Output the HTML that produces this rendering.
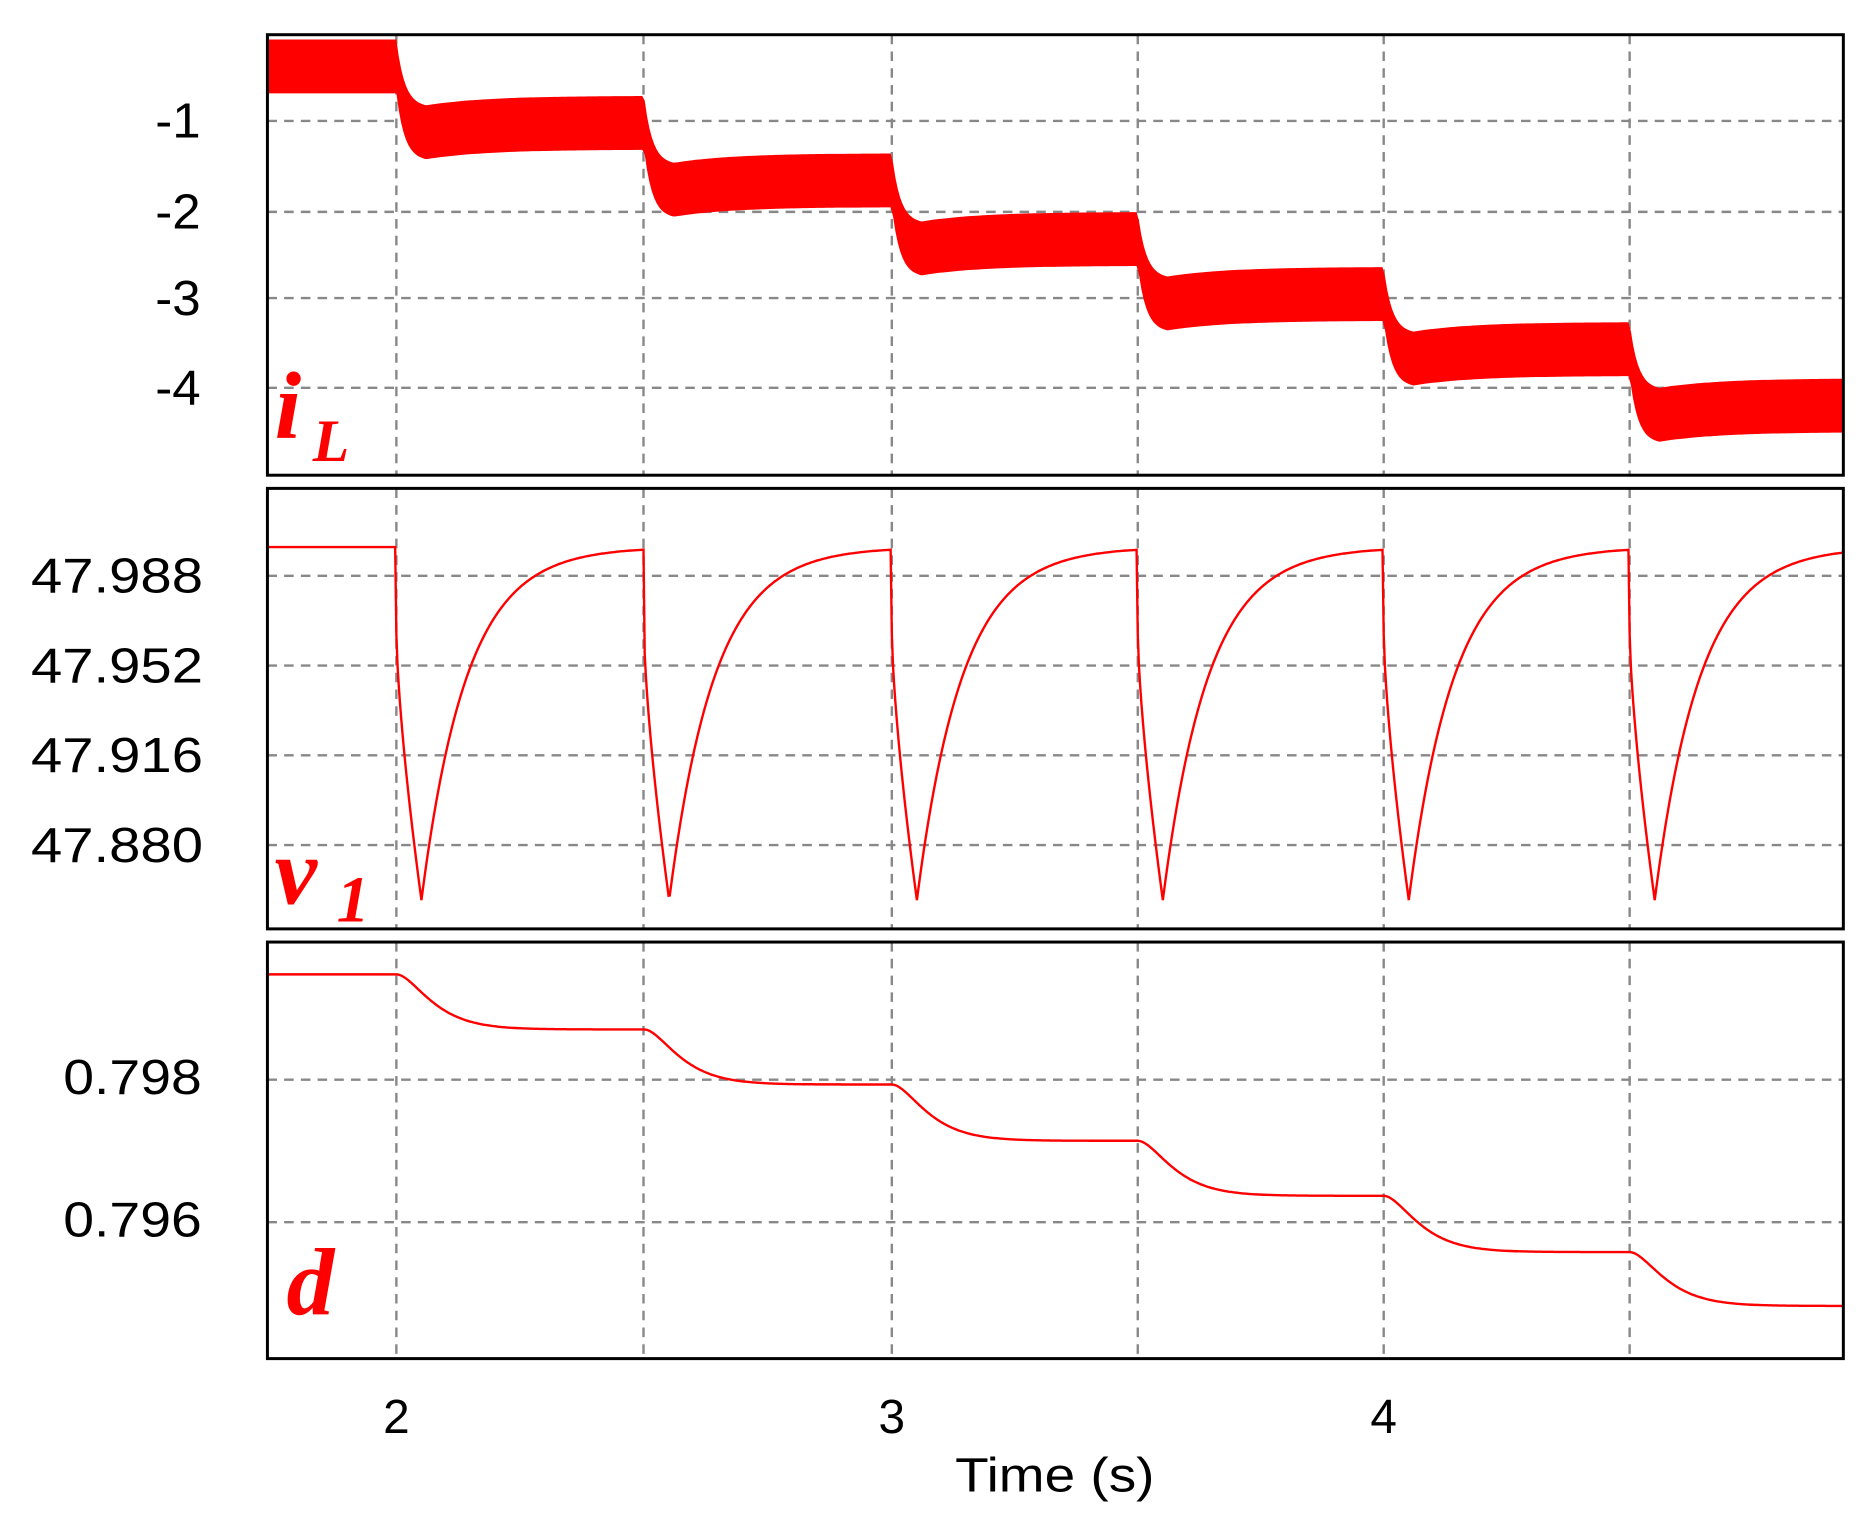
<!DOCTYPE html>
<html><head><meta charset="utf-8"><style>
html,body{margin:0;padding:0;background:#fff;}
svg{display:block;}
text{font-family:"Liberation Sans",sans-serif;fill:#000;}
.lab{font-family:"Liberation Serif",serif;font-style:italic;font-weight:bold;fill:#f00;}
</style></head><body>
<svg id="s" width="1872" height="1525" viewBox="0 0 1568 1274" preserveAspectRatio="none" xmlns="http://www.w3.org/2000/svg">
<g id="grid" stroke="#888" stroke-width="2" stroke-dasharray="8,6" fill="none"></g>
<g id="data"></g>
<g fill="none" stroke="#000" stroke-width="2.5">
<rect x="224" y="29" width="1320" height="368"/>
<rect x="224" y="408" width="1320" height="368"/>
<rect x="224" y="787" width="1320" height="348"/>
</g>
<g font-size="41">
<text x="130" y="115" textLength="38" lengthAdjust="spacingAndGlyphs">-1</text>
<text x="130" y="191" textLength="38" lengthAdjust="spacingAndGlyphs">-2</text>
<text x="130" y="263" textLength="38" lengthAdjust="spacingAndGlyphs">-3</text>
<text x="130" y="338" textLength="38" lengthAdjust="spacingAndGlyphs">-4</text>
<text x="26" y="495" textLength="144" lengthAdjust="spacingAndGlyphs">47.988</text>
<text x="26" y="570" textLength="144" lengthAdjust="spacingAndGlyphs">47.952</text>
<text x="26" y="645" textLength="144" lengthAdjust="spacingAndGlyphs">47.916</text>
<text x="26" y="720" textLength="144" lengthAdjust="spacingAndGlyphs">47.880</text>
<text x="53" y="914" textLength="116" lengthAdjust="spacingAndGlyphs">0.798</text>
<text x="53" y="1033" textLength="116" lengthAdjust="spacingAndGlyphs">0.796</text>
</g>
<g font-size="40" text-anchor="middle">
<text x="332" y="1197">2</text>
<text x="747" y="1197">3</text>
<text x="1159" y="1197">4</text>
</g>
<text x="800" y="1246" font-size="40" textLength="167" lengthAdjust="spacingAndGlyphs">Time (s)</text>
<text class="lab" x="230" y="366" font-size="80">i</text>
<text class="lab" x="262" y="385" font-size="50">L</text>
<text class="lab" x="230" y="755" font-size="80">v</text>
<text class="lab" x="282" y="770" font-size="55" font-style="normal">1</text>
<text class="lab" x="240" y="1098" font-size="80">d</text>
</svg>
<script>
var NS="http://www.w3.org/2000/svg";
var grid=document.getElementById('grid'),data=document.getElementById('data');
function el(p,t,a){var e=document.createElementNS(NS,t);for(var k in a)e.setAttribute(k,a[k]);p.appendChild(e);return e;}
var gx=[332,539,747,953,1159,1365];
var panels=[[29,397],[408,776],[787,1135]];
panels.forEach(function(p){gx.forEach(function(x){el(grid,'line',{x1:x,y1:p[0],x2:x,y2:p[1]});});});
[101,177,249,324,481,556,631,706,902,1021].forEach(function(y){el(grid,'line',{x1:224,y1:y,x2:1544,y2:y});});
var steps=[332,539.5,747,953,1159,1365];
function segIdx(x){var n=0;for(var i=0;i<steps.length;i++)if(x>=steps[i])n=i+1;return n;}
var tops=[33,80,128,177,223,269,316];
function topAt(x){var n=segIdx(x);if(n==0)return 33;var s=steps[n-1];var dx=x-s;var prev=tops[n-1],fin=tops[n];
 var dip=fin+8;var y;
 if(dx<25){y=prev+(dip-prev)*(1-Math.exp(-dx/7))/(1-Math.exp(-25/7));}
 else{y=fin+8*Math.exp(-(dx-25)/50);}
 return y;}
var up=[],dn=[];
for(var x=224;x<=1544;x+=2){var t=topAt(x);up.push(x+','+t.toFixed(1));dn.unshift(x+','+(t+45).toFixed(1));}
el(data,'polygon',{points:up.concat(dn).join(' '),fill:'#f00'});
var pts=[];
for(var x=224;x<=1544;x+=1){var n=segIdx(x);var y=457;
 if(n>0){var dx=x-steps[n-1];
  if(dx<21){y=530+222*Math.pow(dx/21,0.7);}
  else{y=457+295*Math.exp(-(dx-21)/38);}}
 pts.push(x+','+y.toFixed(1));}
el(data,'polyline',{points:pts.join(' '),fill:'none',stroke:'#f00','stroke-width':2});
var lv=[814,860,906,953,999,1046,1091];pts=[];
for(var x=224;x<=1544;x+=1){var n=segIdx(x);var y=814;
 if(n>0){var dx=x-steps[n-1];var tau=18;y=lv[n-1]+(lv[n]-lv[n-1])*(1-(1+dx/tau)*Math.exp(-dx/tau));}
 pts.push(x+','+y.toFixed(1));}
el(data,'polyline',{points:pts.join(' '),fill:'none',stroke:'#f00','stroke-width':2});
</script>
</body></html>
